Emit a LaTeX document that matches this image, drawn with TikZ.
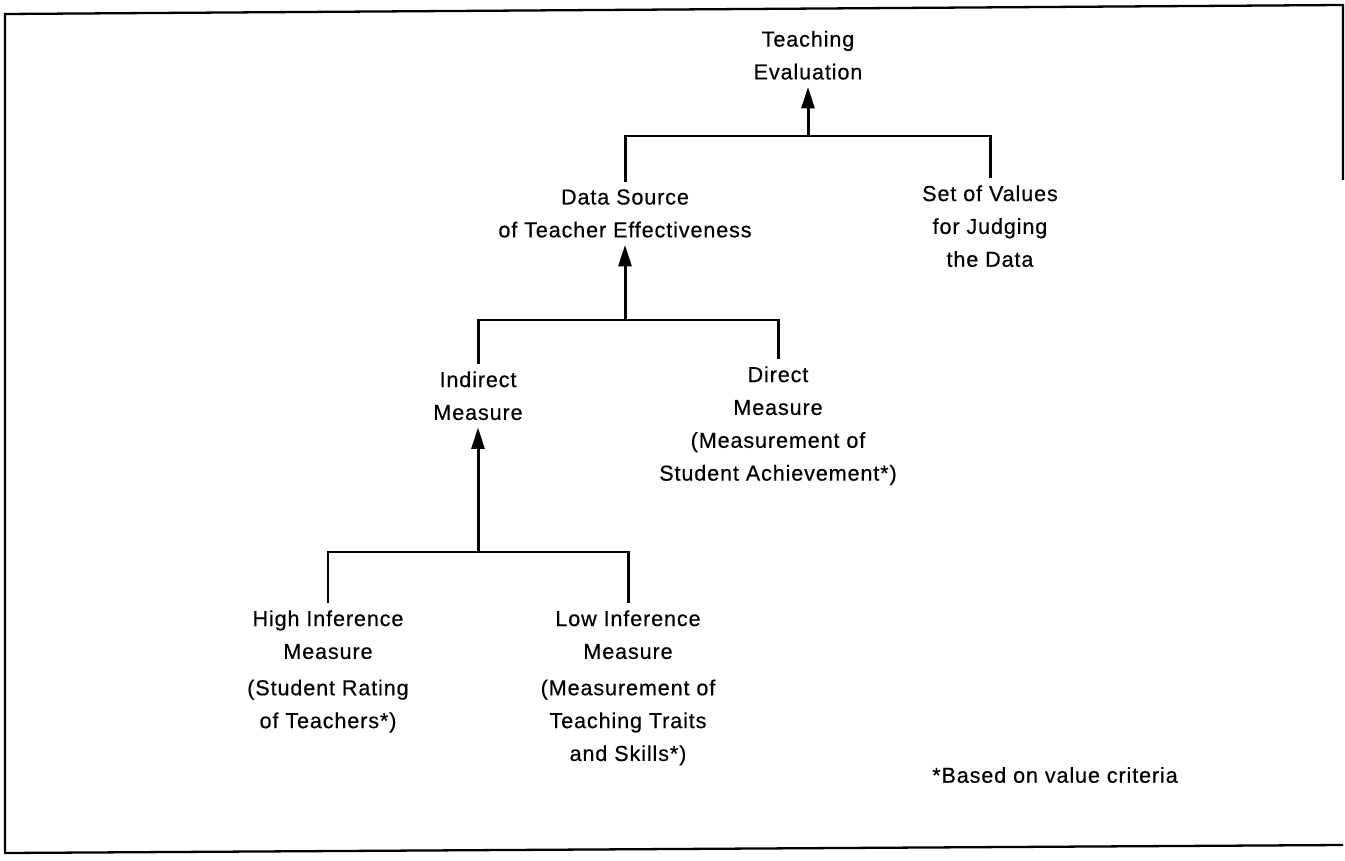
\documentclass[tikz,border=0pt]{standalone}
\usepackage{fontspec}
\setmainfont{Liberation Sans}[LetterSpace=4,FakeBold=0.4]
\usetikzlibrary{arrows.meta}
\tikzset{
  lbl/.style={align=center,inner sep=4pt,font=\fontsize{12.3}{18.7}\selectfont},
  branch/.style={line width=1.7pt},
  upto/.style={branch,-{Triangle[length=4.3mm,width=2.6mm]}}
}
\begin{document}
\begin{tikzpicture}[x=0.02cm,y=-0.02cm]
\useasboundingbox (0,0) rectangle (1345,861);
\draw[line width=1.3pt] (1343,180) -- (1343,5) -- (5,14) -- (5,853) -- (1343,845);

\path
(808,87) node[lbl,anchor=south](eval) {Teaching\\Evaluation}
(625,182) node[lbl,anchor=north](source) {Data Source\\of Teacher Effectiveness}
(990,178) node[lbl,anchor=north](values) {Set of Values\\for Judging\\the Data}
(478,364) node[lbl,anchor=north](indirect) {Indirect\\Measure}
(778,359) node[lbl,anchor=north](direct) {Direct\\Measure\\(Measurement of\\Student Achievement*)}
(328,603) node[lbl,anchor=north](high) {High Inference\\Measure\\[2pt](Student Rating\\of Teachers*)}
(628,603) node[lbl,anchor=north](low) {Low Inference\\Measure\\[2pt](Measurement of\\Teaching Traits\\and Skills*)}
(1055,775) node[lbl](note) {*Based on value criteria};

% junctions of the branches
\coordinate (j1) at (808,136);
\coordinate (j2) at (625,320);
\coordinate (j3) at (478,552);

\draw[branch] (source.north) -- (source.north |- j1) -- (values.north |- j1) -- (values.north);
\draw[upto] (j1) -- (eval);
\draw[branch] (indirect.north) -- (indirect.north |- j2) -- (direct.north |- j2) -- (direct.north);
\draw[upto] (j2) -- (source);
\draw[branch] (high.north) -- (high.north |- j3) -- (low.north |- j3) -- (low.north);
\draw[upto] (j3) -- (indirect);
\end{tikzpicture}
\end{document}
